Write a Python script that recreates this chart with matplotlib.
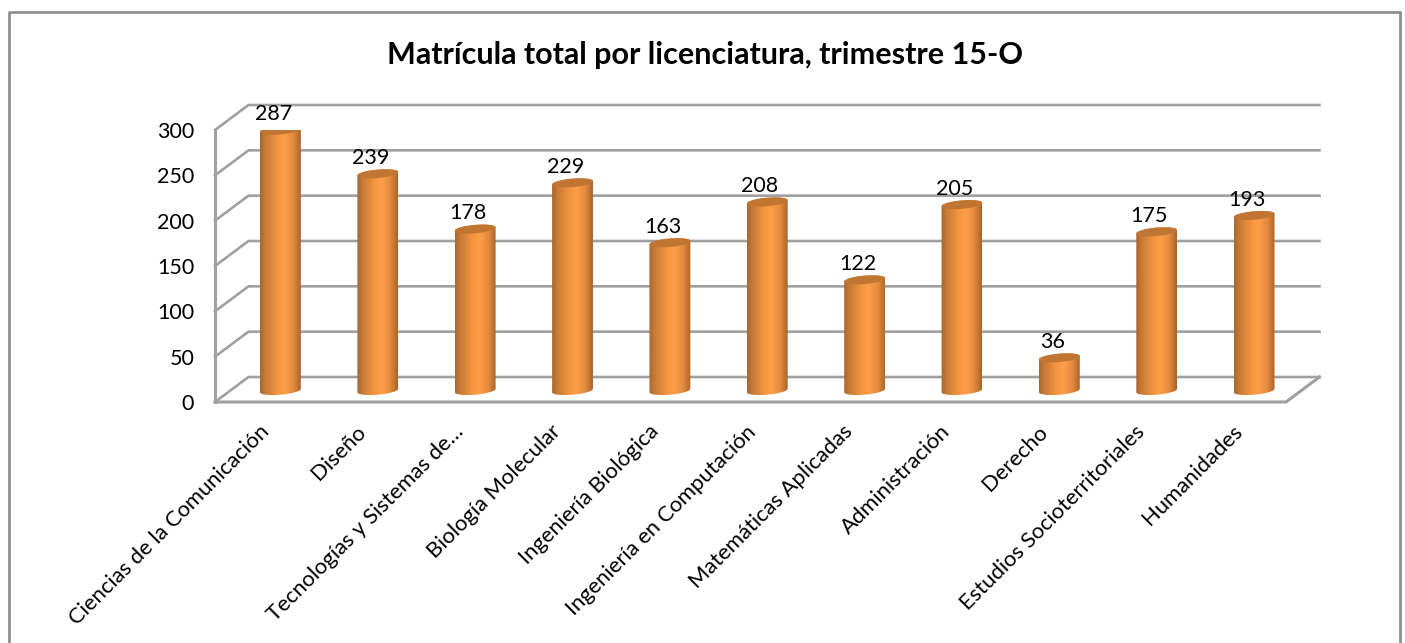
#bar chart with 3d looking cylinders, matricula por licenciatura
import matplotlib
matplotlib.use('Agg')
import matplotlib.pyplot as plt
from matplotlib.colors import LinearSegmentedColormap
from matplotlib.lines import Line2D
from matplotlib.patches import Polygon
from matplotlib.transforms import ScaledTranslation
import numpy as np

plt.rcParams['font.family'] = ['Lato', 'DejaVu Sans']

categories = ['Ciencias de la Comunicación', 'Diseño', 'Tecnologías y Sistemas de…',
              'Biología Molecular', 'Ingeniería Biológica', 'Ingeniería en Computación',
              'Matemáticas Aplicadas', 'Administración', 'Derecho',
              'Estudios Socioterritoriales', 'Humanidades']
values = [287, 239, 178, 229, 163, 208, 122, 205, 36, 175, 193]
y_ticks = [0, 50, 100, 150, 200, 250, 300]

W, H = 1405, 643
left, right, top, bottom = 215, 1286, 130, 402

fig = plt.figure(figsize=(W / 100, H / 100), dpi=100)
fig.patch.set_facecolor('white')
ax = fig.add_axes([left / W, 1 - bottom / H, (right - left) / W, (bottom - top) / H])
ax.set_xlim(-0.5, len(categories) - 0.5)
ax.set_ylim(0, 300)
ax.patch.set_visible(False)
for s in ax.spines.values():
    s.set_visible(False)

# size of one pixel in data units
px = (len(categories)) / (right - left)
py = 300 / (bottom - top)
dx, dy = 33.5 * px, 25 * py

grid = '#a0a0a0'
x0, x1 = -0.5, len(categories) - 0.5

# walls and floor
for t in y_ticks:
    ax.plot([x0, x0 + dx, x1 + dx], [t, t + dy, t + dy], color=grid, lw=1.9, clip_on=False, zorder=1)
ax.plot([x0, x0], [0, 300], color=grid, lw=2.2, clip_on=False, zorder=1)
ax.plot([x0, x1, x1 + dx], [0, 0, dy], color=grid, lw=2.2, clip_on=False, zorder=1)

# cylinders
cmap = LinearSegmentedColormap.from_list('cyl', [(0, '#a9662e'), (0.12, '#c47a38'), (0.42, '#f4953f'),
                                                 (0.6, '#ff9e49'), (0.82, '#e38a3e'), (1, '#a8642c')])
grad = np.linspace(0, 1, 128).reshape(1, -1)
rx, ry = 20.5, 4.2
tilt = np.radians(5)
theta = np.linspace(0, 2 * np.pi, 80)
ex = (rx * np.cos(theta) * np.cos(tilt) - ry * np.sin(theta) * np.sin(tilt)) * px
ey = (rx * np.cos(theta) * np.sin(tilt) + ry * np.sin(theta) * np.cos(tilt)) * py

for i, v in enumerate(values):
    cx = i + dx / 2
    base = dy / 2 - 1 * py
    low = theta > np.pi
    order = np.argsort(ex[low])
    up = theta <= np.pi
    up_order = np.argsort(ex[up])[::-1]
    body_x = np.r_[ex[low][order], ex[up][up_order]] + cx
    body_y = np.r_[ey[low][order] + base, ey[up][up_order] + base + v]
    body = Polygon(np.c_[body_x, body_y], closed=True, transform=ax.transData, fc='none', ec='none')
    ax.add_patch(body)
    im = ax.imshow(grad, cmap=cmap, aspect='auto', zorder=3, interpolation='bilinear',
                   extent=[cx - rx * px, cx + rx * px, 0, base + v + 12 * py])
    im.set_clip_path(body)
    im.set_clip_on(True)
    ax.add_patch(Polygon(np.c_[cx + ex, base + v + ey], closed=True, fc='#c07632', ec='none', zorder=4))
    ax.text(i + 9.5 * px, base + v + 16 * py, str(v), ha='center', va='center',
            fontsize=15.5, color='black', zorder=5, clip_on=False)

ax.set_xlim(-0.5, len(categories) - 0.5)
ax.set_ylim(0, 300)

ax.set_yticks(y_ticks)
ax.set_yticklabels([str(t) for t in y_ticks], fontsize=15.5)
ax.set_xticks(range(len(categories)))
ax.set_xticklabels(categories, rotation=45, ha='right', rotation_mode='anchor', fontsize=15.8)
ax.tick_params(axis='y', length=0, pad=15)
ax.tick_params(axis='x', length=0, pad=14)

# category labels sit a bit left of the tick
shift = ScaledTranslation(-5 / 100, 0, fig.dpi_scale_trans)
for lab in ax.get_xticklabels():
    lab.set_transform(lab.get_transform() + shift)

fig.text(705 / W, 1 - 55 / H, 'Matrícula total por licenciatura, trimestre 15-O',
         ha='center', va='center', fontsize=22, fontweight='bold')

# chart border, runs off the bottom of the image
frame = '#8f8f8f'
fig.add_artist(Line2D([9 / W, 9 / W, 1400 / W, 1400 / W], [0, 1 - 12 / H, 1 - 12 / H, 0], color=frame, lw=2))

fig.savefig('out.png', dpi=100)
